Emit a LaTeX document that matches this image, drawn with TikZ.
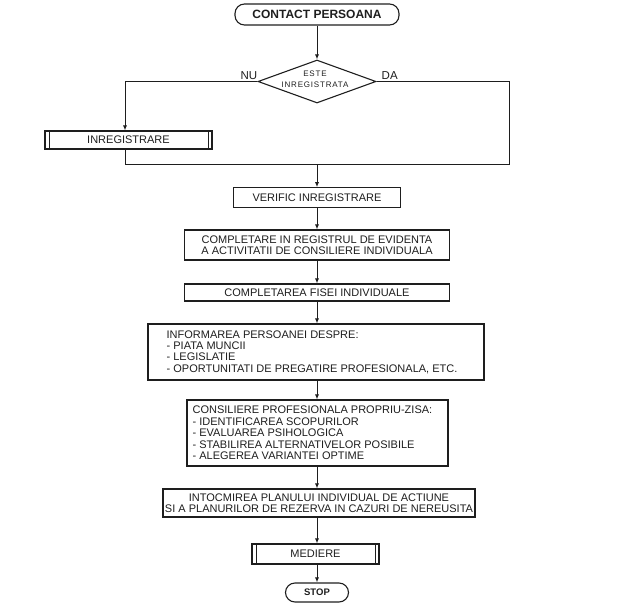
\documentclass[tikz,border=0pt]{standalone}
\usepackage{fontspec}
\setmainfont{Liberation Sans}
\newfontfamily\spacedfont[LetterSpace=10]{Liberation Sans}
\usetikzlibrary{arrows.meta,shapes.geometric}
\definecolor{ink}{HTML}{1E1E1E}
\begin{document}
\begin{tikzpicture}[x=1pt,y=-1pt,
  every node/.style={text=ink},
  txt/.style={inner sep=0pt, font=\fontsize{11}{11.4}\selectfont},
  box/.style={draw=ink, line width=1.1pt, inner sep=0pt, align=center, font=\fontsize{11}{11.4}\selectfont},
  term/.style={box, rounded corners=9.5pt, font=\bfseries\fontsize{12}{13}\selectfont},
  predef/.style={box, path picture={\draw[ink, line width=1pt]
      ([xshift=4pt]path picture bounding box.north west) -- ([xshift=4pt]path picture bounding box.south west)
      ([xshift=-4pt]path picture bounding box.north east) -- ([xshift=-4pt]path picture bounding box.south east);}},
  decis/.style={draw=ink, line width=1.1pt, diamond, inner sep=0pt},
  conn/.style={draw=ink, line width=1pt},
  arr/.style={conn, -{Latex[length=5pt,width=4pt]}}
]
\useasboundingbox (0,0) rectangle (625,614);

% nodes
\node[term, minimum width=164pt, minimum height=21pt] (contact) at (317,14.5) {CONTACT PERSOANA};
\node[decis, minimum width=118pt, minimum height=43pt] (d) at (317,81.5) {};
\node[txt, align=center, font=\spacedfont\fontsize{8}{11.4}\selectfont] (dtext) at (315,79) {ESTE\\INREGISTRATA};
\node[txt, anchor=east] (nu) at (257.5,75.5) {\fontsize{11.5}{12}\selectfont NU};
\node[txt, anchor=west] (da) at (381.5,75.5) {\fontsize{11.5}{12}\selectfont DA};
\node[predef, minimum width=167pt, minimum height=18pt] (inreg) at (128.5,140) {INREGISTRARE};
\node[box, minimum width=167pt, minimum height=19.5pt] (verific) at (317,197.5) {VERIFIC INREGISTRARE};
\node[box, minimum width=265pt, minimum height=30pt] (compl) at (317,245) {COMPLETARE IN REGISTRUL DE EVIDENTA\\A ACTIVITATII DE CONSILIERE INDIVIDUALA};
\node[box, minimum width=265pt, minimum height=17pt] (fisa) at (317,292.5) {COMPLETAREA FISEI INDIVIDUALE};
\node[box, minimum width=336pt, minimum height=56pt] (info) at (316,352) {};
\node[txt, anchor=west, align=left] (infot) at ([xshift=19pt]info.west) {INFORMAREA PERSOANEI DESPRE:\\- PIATA MUNCII\\- LEGISLATIE\\- OPORTUNITATI DE PREGATIRE PROFESIONALA, ETC.};
\node[box, minimum width=261pt, minimum height=66pt] (consil) at (317.5,433) {};
\node[txt, anchor=west, align=left] (consilt) at ([xshift=6pt]consil.west) {CONSILIERE PROFESIONALA PROPRIU-ZISA:\\- IDENTIFICAREA SCOPURILOR\\- EVALUAREA PSIHOLOGICA\\- STABILIREA ALTERNATIVELOR POSIBILE\\- ALEGEREA VARIANTEI OPTIME};
\node[box, minimum width=312pt, minimum height=28pt] (intoc) at (319,503) {INTOCMIREA PLANULUI INDIVIDUAL DE ACTIUNE\\SI A PLANURILOR DE REZERVA IN CAZURI DE NEREUSITA};
\node[predef, minimum width=127pt, minimum height=20pt] (mediere) at (315.5,554) {MEDIERE};
\node[term, minimum width=63pt, minimum height=19pt, font=\bfseries\fontsize{9.5}{11}\selectfont] (stop) at (317,592.5) {STOP};

% coordinates of the branches
\coordinate (tl) at (125,81.5);
\coordinate (tr) at (509,81.5);
\coordinate (bl) at (125,164);
\coordinate (br) at (509,164);
\coordinate (j) at (317,164);

% connectors
\draw[arr] (contact.south) -- (d.north);
\draw[conn] (d.west) -- (tl);
\draw[arr] (tl) -- (tl |- inreg.north);
\draw[conn] (d.east) -- (tr) -- (br) -- (bl) -- (bl |- inreg.south);
\draw[arr] (j) -- (verific.north);
\draw[arr] (verific.south) -- (compl.north);
\draw[arr] (compl.south) -- (fisa.north);
\draw[arr] (fisa.south) -- (fisa.south |- info.north);
\draw[arr] (fisa.south |- info.south) -- (fisa.south |- consil.north);
\draw[arr] (fisa.south |- consil.south) -- (fisa.south |- intoc.north);
\draw[arr] (fisa.south |- intoc.south) -- (fisa.south |- mediere.north);
\draw[arr] (fisa.south |- mediere.south) -- (stop.north);
\end{tikzpicture}
\end{document}
